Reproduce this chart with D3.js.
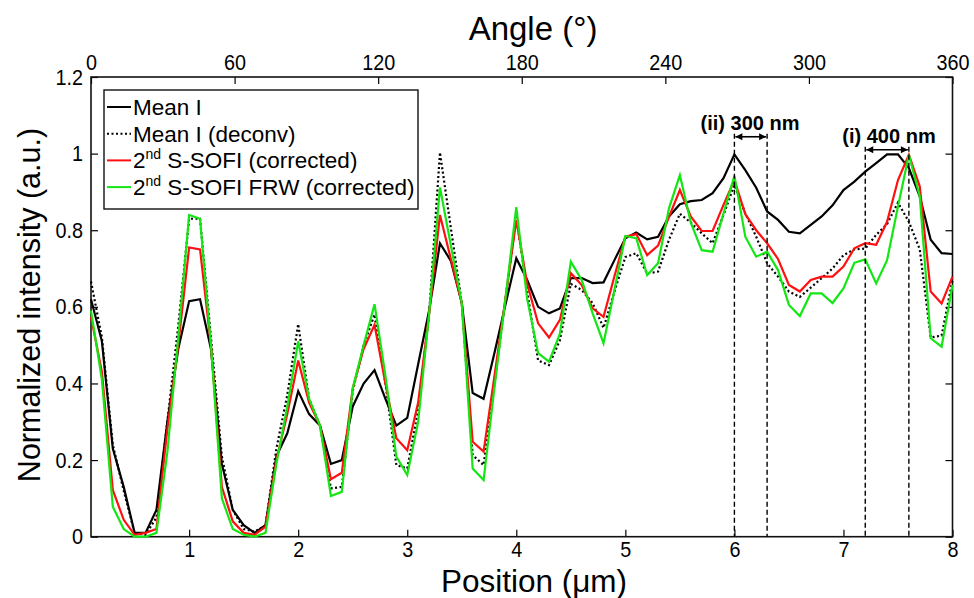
<!DOCTYPE html>
<html>
<head>
<meta charset="utf-8">
<script src="https://cdn.jsdelivr.net/npm/d3@7"></script>
<style>
  body { margin: 0; background: #fff; }
  svg { display: block; }
  .sans { font-family: "Liberation Sans", Arial, sans-serif; }
</style>
</head>
<body>
<svg id="chart"></svg>
<script>
const size = {w: 974, h: 598};
const plot = {l: 91, r: 952.5, t: 77, b: 536.7};

// position along the profile (um)
const positions = [0.1,0.2,0.3,0.4,0.5,0.6,0.7,0.8,0.9,1.0,
  1.1,1.2,1.3,1.4,1.5,1.6,1.7,1.8,1.9,2.0,
  2.1,2.2,2.3,2.4,2.5,2.6,2.7,2.8,2.9,3.0,
  3.1,3.2,3.3,3.4,3.5,3.6,3.7,3.8,3.9,4.0,
  4.1,4.2,4.3,4.4,4.5,4.6,4.7,4.8,4.9,5.0,
  5.1,5.2,5.3,5.4,5.5,5.6,5.7,5.8,5.9,6.0,
  6.1,6.2,6.3,6.4,6.5,6.6,6.7,6.8,6.9,7.0,
  7.1,7.2,7.3,7.4,7.5,7.6,7.7,7.8,7.9,8.0];

const meanI = [0.62,0.51,0.23,0.13,0.01,0.01,0.07,0.30,0.49,0.615,
  0.62,0.49,0.19,0.07,0.03,0.01,0.03,0.21,0.27,0.38,
  0.32,0.29,0.19,0.20,0.34,0.40,0.435,0.36,0.29,0.31,
  0.45,0.59,0.766,0.72,0.61,0.375,0.36,0.48,0.605,0.727,
  0.67,0.60,0.583,0.596,0.675,0.675,0.662,0.664,0.722,0.779,
  0.794,0.776,0.783,0.836,0.868,0.876,0.879,0.897,0.936,0.998,
  0.957,0.911,0.849,0.827,0.796,0.792,0.814,0.836,0.865,0.905,
  0.927,0.953,0.975,0.998,0.998,0.962,0.888,0.775,0.74,0.738];

const meanIDeconv = [0.666,0.52,0.24,0.12,0.01,0.005,0.05,0.30,0.55,0.83,
  0.83,0.52,0.21,0.07,0.02,0.013,0.03,0.23,0.37,0.555,
  0.36,0.29,0.126,0.13,0.38,0.50,0.58,0.40,0.187,0.178,
  0.33,0.58,1.003,0.806,0.61,0.213,0.187,0.40,0.62,0.835,
  0.64,0.46,0.448,0.513,0.66,0.644,0.61,0.545,0.64,0.73,
  0.74,0.687,0.692,0.775,0.843,0.82,0.792,0.766,0.84,0.918,
  0.844,0.783,0.714,0.679,0.64,0.626,0.65,0.675,0.70,0.735,
  0.75,0.752,0.788,0.816,0.872,0.822,0.75,0.52,0.525,0.67];

const sofi = [0.574,0.43,0.122,0.044,0.005,0.01,0.02,0.28,0.50,0.755,
  0.75,0.50,0.13,0.04,0.01,0.005,0.026,0.20,0.32,0.46,
  0.35,0.29,0.15,0.167,0.387,0.49,0.553,0.40,0.257,0.226,
  0.35,0.58,0.84,0.725,0.61,0.248,0.222,0.42,0.62,0.827,
  0.66,0.557,0.52,0.566,0.688,0.657,0.596,0.574,0.68,0.783,
  0.79,0.735,0.76,0.835,0.905,0.836,0.798,0.798,0.866,0.931,
  0.842,0.80,0.766,0.725,0.657,0.64,0.67,0.679,0.679,0.705,
  0.753,0.766,0.762,0.822,0.931,0.997,0.914,0.64,0.609,0.679];

const sofiFRW = [0.59,0.41,0.078,0.02,0.0,0.0,0.01,0.22,0.52,0.84,
  0.83,0.50,0.10,0.02,0.005,0.0,0.01,0.19,0.34,0.51,
  0.36,0.29,0.106,0.117,0.387,0.50,0.607,0.42,0.209,0.161,
  0.30,0.58,0.912,0.76,0.61,0.178,0.148,0.39,0.62,0.86,
  0.62,0.479,0.457,0.53,0.718,0.67,0.583,0.505,0.644,0.785,
  0.779,0.683,0.714,0.857,0.944,0.82,0.748,0.744,0.844,0.942,
  0.783,0.731,0.744,0.696,0.605,0.576,0.635,0.635,0.61,0.648,
  0.715,0.724,0.661,0.722,0.862,0.997,0.888,0.518,0.496,0.657];

const seriesNames = ['Mean I', 'Mean I (deconv)', '2nd S-SOFI (corrected)', '2nd S-SOFI FRW (corrected)'];
const xTicks = [1, 2, 3, 4, 5, 6, 7, 8];
const yTicks = [0, 0.2, 0.4, 0.6, 0.8, 1, 1.2];
const angleTicks = [0, 60, 120, 180, 240, 300, 360];

// resolution markers: [left, right] positions and label
const markers = [
  {x0: 6.0, x1: 6.3, label: '(ii) 300 nm'},
  {x0: 7.2, x1: 7.6, label: '(i) 400 nm'}
];

const svg = d3.select('svg#chart')
    .attr('width', size.w)
    .attr('height', size.h)
    .attr('class', 'sans');

const xScale = d3.scaleLinear().domain([0.1, 8]).range([plot.l, plot.r]);
const angleScale = d3.scaleLinear().domain([0, 360]).range([plot.l, plot.r]);
const yScale = d3.scaleLinear().domain([0, 1.2]).range([plot.b, plot.t]);

const tickLen = 7;
// tick labels in the original look like a condensed face
const narrowText = g => g.selectAll('text')
    .attr('font-size', 22)
    .attr('font-family', null)
    .attr('transform', 'scale(0.9,1)');

// bottom axis
svg.append('g')
    .attr('transform', `translate(0, ${plot.b})`)
    .call(d3.axisBottom(xScale).tickValues(xTicks).tickFormat(d3.format('d'))
        .tickSizeInner(-tickLen).tickSizeOuter(0).tickPadding(5))
    .call(g => g.select('.domain').remove())
    .call(narrowText);

// top axis (angle)
svg.append('g')
    .attr('transform', `translate(0, ${plot.t})`)
    .call(d3.axisTop(angleScale).tickValues(angleTicks).tickFormat(d3.format('d'))
        .tickSizeInner(-tickLen).tickSizeOuter(0).tickPadding(7))
    .call(g => g.select('.domain').remove())
    .call(narrowText);

// left axis
svg.append('g')
    .attr('transform', `translate(${plot.l}, 0)`)
    .call(d3.axisLeft(yScale).tickValues(yTicks).tickFormat(d => d === 0 || d === 1 ? d3.format('d')(d) : d3.format('.1f')(d))
        .tickSizeInner(-tickLen).tickSizeOuter(0).tickPadding(9))
    .call(g => g.select('.domain').remove())
    .call(narrowText);

// right axis, ticks only
svg.append('g')
    .attr('transform', `translate(${plot.r}, 0)`)
    .call(d3.axisRight(yScale).tickValues(yTicks).tickFormat('')
        .tickSizeInner(-tickLen).tickSizeOuter(0))
    .call(g => g.select('.domain').remove());

svg.selectAll('.tick line').attr('stroke', '#000').attr('stroke-width', 1.2);

// frame
svg.append('rect')
    .attr('x', plot.l)
    .attr('y', plot.t)
    .attr('width', plot.r - plot.l)
    .attr('height', plot.b - plot.t)
    .attr('fill', 'none')
    .attr('stroke', '#111')
    .attr('stroke-width', 1.6);

// lines
const line = d3.line()
    .x(d => xScale(d[0]))
    .y(d => yScale(d[1]));

const series = [
  {values: meanI, color: '#000', dash: null},
  {values: meanIDeconv, color: '#000', dash: '2,2.5'},
  {values: sofi, color: '#ff1010', dash: null},
  {values: sofiFRW, color: '#14e614', dash: null}
];

svg.append('g')
    .classed('lines', true)
    .selectAll('path')
    .data(series)
    .join('path')
    .attr('d', s => line(d3.zip(positions, s.values)))
    .attr('fill', 'none')
    .attr('stroke', s => s.color)
    .attr('stroke-width', 2.2)
    .attr('stroke-linejoin', 'miter')
    .attr('stroke-dasharray', s => s.dash);

// resolution markers
const markerTop = [yScale(1.044), yScale(1.01)];
const labelPos = [{x: 750, y: 130}, {x: 889, y: 143}];
const markerG = svg.append('g').classed('markers', true);

markers.forEach((m, i) => {
    let top = markerTop[i];
    [m.x0, m.x1].forEach(x => {
        markerG.append('line')
            .attr('x1', xScale(x)).attr('x2', xScale(x))
            .attr('y1', top - 3).attr('y2', plot.b)
            .attr('stroke', '#000')
            .attr('stroke-width', 1.4)
            .attr('stroke-dasharray', '5,3');
    });
    let xa = xScale(m.x0) + 1, xb = xScale(m.x1) - 1;
    markerG.append('line')
        .attr('x1', xa).attr('x2', xb)
        .attr('y1', top).attr('y2', top)
        .attr('stroke', '#000').attr('stroke-width', 1.6);
    [[xa, 1], [xb, -1]].forEach(([x, dir]) => {
        markerG.append('path')
            .attr('d', `M${x},${top} L${x + dir * 7},${top - 3.5} L${x + dir * 7},${top + 3.5} Z`)
            .attr('fill', '#000');
    });
    markerG.append('text')
        .attr('x', labelPos[i].x)
        .attr('y', labelPos[i].y)
        .attr('text-anchor', 'middle')
        .attr('font-size', 20)
        .attr('font-weight', 'bold')
        .text(m.label);
});

// legend
const legend = svg.append('g');
legend.append('rect')
    .attr('x', 104).attr('y', 90)
    .attr('width', 314).attr('height', 119)
    .attr('fill', '#fff')
    .attr('stroke', '#111')
    .attr('stroke-width', 1.4);

series.forEach((s, i) => {
    let y = 107 + i * 26.7;
    legend.append('line')
        .attr('x1', 107).attr('x2', 131)
        .attr('y1', y).attr('y2', y)
        .attr('stroke', s.color)
        .attr('stroke-width', 2)
        .attr('stroke-dasharray', s.dash);
    let t = legend.append('text')
        .attr('x', 133)
        .attr('y', y + 8)
        .attr('font-size', 22.5);
    let name = seriesNames[i];
    if (name.startsWith('2nd')) {
        t.append('tspan').text('2');
        t.append('tspan').attr('font-size', 14).attr('dy', -9).text('nd');
        t.append('tspan').attr('dy', 9).text(name.slice(3));
    } else {
        t.text(name);
    }
});

// axis titles
svg.append('text')
    .attr('x', 533)
    .attr('y', 40)
    .attr('text-anchor', 'middle')
    .attr('font-size', 33)
    .text('Angle (°)');

svg.append('text')
    .attr('x', 534)
    .attr('y', 592)
    .attr('text-anchor', 'middle')
    .attr('font-size', 31.5)
    .text('Position (μm)');

svg.append('text')
    .attr('transform', `translate(40, 305) rotate(-90)`)
    .attr('text-anchor', 'middle')
    .attr('font-size', 30.5)
    .text('Normalized intensity (a.u.)');
</script>
</body>
</html>
